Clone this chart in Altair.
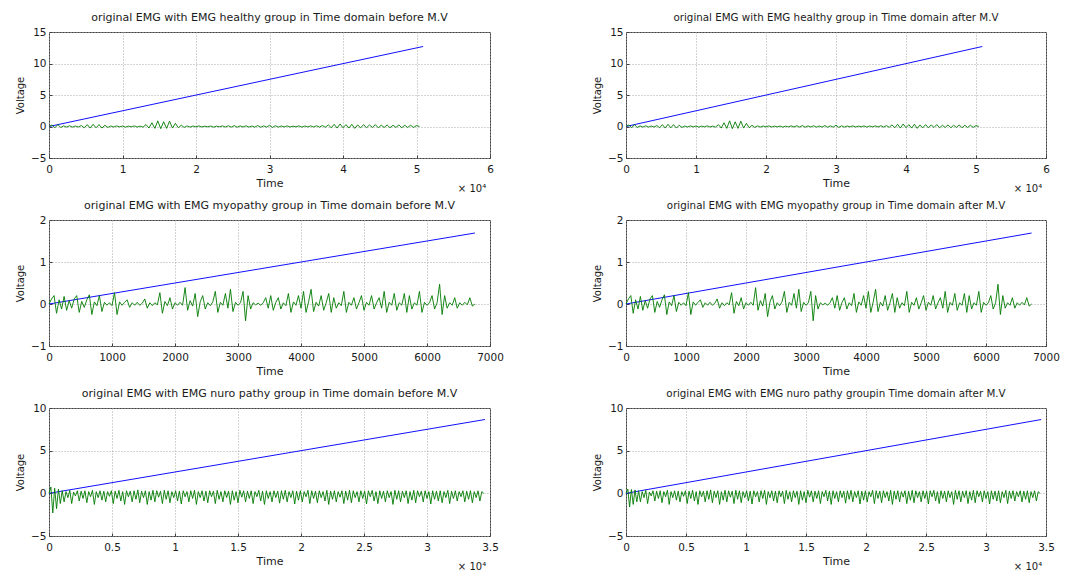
import altair as alt
import pandas as pd

# ---------------------------------------------------------------------------
# Sampled EMG traces (one value every STEP samples) and the M.V ramps
# ---------------------------------------------------------------------------
HEALTHY_STEP = 400
healthy_emg = [
    0.0, 0.25, -0.2, 0.3, -0.15,
    0.1, -0.1, 0.12, -0.1, 0.08, -0.08,
    0.15, -0.2, 0.3, -0.25, 0.35, -0.2, 0.3, -0.25, 0.2, -0.15,
    0.08, -0.08, 0.1, -0.06, 0.08, -0.1, 0.06, -0.05, 0.1, -0.08, 0.06, -0.1,
    0.3, -0.25, 0.6, -0.3, 0.9, -0.35, 0.75, -0.3, 0.85, -0.25, 0.5, -0.2,
    0.2, -0.15, 0.1, -0.1, 0.08, -0.06, 0.1, -0.08, 0.06, -0.05, 0.08, -0.1, 0.06, -0.05, 0.1, -0.08,
    0.12, -0.1, 0.15, -0.12, 0.1, -0.08, 0.12, -0.1, 0.08, -0.1, 0.15, -0.12, 0.1, -0.1, 0.2, -0.15,
    0.12, -0.1, 0.08, -0.06,
    0.1, -0.08, 0.06, -0.05, 0.1, -0.1, 0.08, -0.06, 0.1, -0.08, 0.12, -0.1, 0.15, -0.12,
    0.25, -0.2, 0.35, -0.25, 0.4, -0.2, 0.3, -0.25, 0.35, -0.3, 0.25, -0.2, 0.3, -0.2, 0.25, -0.15,
    0.3, -0.2, 0.2, -0.15, 0.25, -0.2,
    0.2, -0.15, 0.25, -0.2, 0.2, -0.15, 0.2, -0.15, 0.15, 0.0,
]

MYOPATHY_STEP = 40
myopathy_emg = [
    0.0, 0.12, 0.2, -0.22, 0.1, -0.12, 0.18, -0.15, 0.08, -0.1,
    0.12, 0.2, -0.2, 0.06, -0.08, 0.1, 0.22, -0.25, 0.05, -0.04,
    0.2, -0.18, 0.04, -0.03, 0.03, -0.04, 0.27, -0.25, 0.05, -0.03,
    0.04, 0.1, -0.08, 0.03, -0.03, 0.04, -0.03, 0.02, 0.12, -0.1,
    0.03, -0.04, 0.03, -0.02, 0.27, -0.22, 0.06, -0.04, 0.15, -0.12,
    0.03, -0.03, 0.04, -0.03, 0.39, -0.15, 0.08, -0.05, 0.25, -0.3,
    0.05, 0.2, -0.12, 0.03, -0.04, 0.05, 0.3, -0.2, 0.04, -0.03,
    0.25, -0.1, 0.35, -0.18, 0.04, -0.03, 0.03, 0.3, -0.4, 0.2,
    -0.12, 0.03, -0.02, 0.02, -0.03, 0.03, 0.15, -0.1, 0.2, -0.15,
    0.04, 0.15, -0.12, 0.03, -0.04, 0.25, -0.2, 0.05, -0.03, 0.2,
    -0.1, 0.3, -0.2, 0.05, 0.35, -0.18, 0.04, -0.05, 0.2, -0.15,
    0.03, 0.25, -0.2, 0.15, -0.1, 0.03, -0.04, 0.3, -0.2, 0.04,
    -0.03, 0.15, -0.12, 0.03, 0.2, -0.15, 0.04, -0.03, 0.2, -0.12,
    0.03, 0.15, -0.1, 0.3, -0.2, 0.04, -0.03, 0.25, -0.15, 0.03,
    -0.03, 0.25, -0.2, 0.2, -0.12, 0.03, -0.03, 0.3, -0.2, 0.04,
    -0.03, 0.03, 0.2, -0.12, 0.03, 0.47, -0.25, 0.2, -0.1, 0.03,
    -0.03, 0.15, -0.1, 0.03, -0.03, 0.04, -0.02, 0.15, -0.05, 0.0,
]

NEURO_STEP = 150
neuro_emg = [
    0.0, 0.75, -2.3, 0.6, -1.8, 0.5, -1.2,
    0.3, -1.0, 0.2, -0.5, 0.35, -1.2, 0.15, -0.3, 0.3, -0.9, 0.25, -0.6, 0.3, -1.1, 0.2, -0.4, 0.35, -1.3, 0.2, -0.5,
    0.3, -0.8, 0.25, -1.0, 0.2, -0.35, 0.3, -1.2, 0.25, -0.6, 0.35, -0.9, 0.2, -1.3, 0.3, -0.4, 0.25, -1.0, 0.3, -0.7,
    0.4, -1.1, 0.25, -0.5, 0.3, -1.3, 0.2, -0.8, 0.35, -1.0, 0.3, -0.45, 0.25, -1.2, 0.35, -0.7, 0.3, -1.1, 0.2, -0.5,
    0.3, -0.9, 0.25, -1.25, 0.3, -0.4, 0.2, -1.0, 0.3, -0.6, 0.35, -1.3, 0.2, -0.5, 0.3, -0.9, 0.25, -1.1, 0.3, -0.4,
    0.25, -1.2, 0.35, -0.7, 0.2, -1.0, 0.3, -0.5, 0.25, -1.3, 0.3, -0.8, 0.2, -1.1, 0.35, -0.45, 0.3, -1.0, 0.25, -0.6,
    0.3, -1.2, 0.2, -0.4, 0.35, -0.9, 0.25, -1.3, 0.3, -0.6, 0.2, -1.0, 0.3, -0.5, 0.25, -1.15, 0.3, -0.7, 0.35, -1.0,
    0.2, -0.5, 0.3, -1.25, 0.25, -0.8, 0.3, -1.0, 0.2, -0.4, 0.35, -1.2, 0.3, -0.6, 0.25, -1.1, 0.3, -0.5, 0.2, -0.9,
    0.35, -1.3, 0.25, -0.7, 0.3, -1.0, 0.2, -0.45, 0.3, -1.2, 0.25, -0.8, 0.35, -1.1, 0.3, -0.5, 0.2, -1.0, 0.3, -0.6,
    0.25, -1.25, 0.3, -0.4, 0.35, -0.9, 0.2, -1.2, 0.3, -0.6, 0.25, -1.0, 0.3, -0.5, 0.2, -1.3, 0.35, -0.7, 0.3, -1.0,
    0.25, -0.5, 0.3, -1.2, 0.2, -0.8, 0.35, -1.1, 0.3, -0.4, 0.25, -1.0, 0.3, -0.6, 0.2, -1.25, 0.3, -0.7, 0.25, -0.9,
    0.3, -1.1, 0.2, -0.5, 0.35, -1.2, 0.25, -0.6, 0.3, -0.9, 0.2, -0.4, 0.3, -1.0, 0.25, -0.7, 0.3, -1.1, 0.2, -0.5,
    0.3, -0.9, 0.2, 0.0,
]
# after M.V the onset burst is smaller; the rest of the trace is unchanged
neuro_emg_after_onset = [0.0, 0.5, -1.6, 0.45, -1.3, 0.4, -1.0]

healthy_mv_time, healthy_mv = [0, 50900], [0.0, 12.7]
myopathy_mv_time, myopathy_mv = [0, 6760], [0.0, 1.69]
neuro_mv_time, neuro_mv = [0, 34600], [0.0, 8.65]

titles = [
    ("original EMG with EMG healthy group in Time domain before M.V",
     "original EMG with EMG healthy group in Time domain after M.V"),
    ("original EMG with EMG myopathy group in Time domain before M.V",
     "original EMG with EMG myopathy group in Time domain after M.V"),
    ("original EMG with EMG nuro pathy group in Time domain before M.V",
     "original EMG with EMG nuro pathy groupin Time domain after M.V"),
]

FONT = "DejaVu Sans"
TEXT = "#1a1a1a"
LEFT_W, RIGHT_W = 441, 420
TICK = 3  # inward tick length


def trace(values, step):
    return pd.DataFrame({"t": [i * step for i in range(len(values))], "v": values})


def panel(title, emg, mv_t, mv_v, x_dom, x_vals, x_expr, y_dom, y_vals,
          width, height, sci, title_size):
    xs = alt.Scale(domain=x_dom, nice=False, zero=False)
    ys = alt.Scale(domain=y_dom, nice=False, zero=False)
    # axes are pulled inside the frame by the tick length so ticks point inward
    x_axis = alt.Axis(values=x_vals, labelExpr=x_expr, title="Time", grid=True,
                      ticks=True, tickSize=TICK, offset=-TICK, domain=False,
                      labelFlush=False, labelOverlap=False,
                      labelPadding=6, titlePadding=3)
    y_axis = alt.Axis(values=y_vals, title="Voltage", grid=True,
                      ticks=True, tickSize=TICK, offset=-TICK, domain=False,
                      labelFlush=False, labelOverlap=False, labelPadding=3,
                      minExtent=18 + TICK, maxExtent=18 + TICK, titlePadding=6,
                      titleFontSize=10)
    enc = dict(x=alt.X("t:Q", scale=xs, axis=x_axis),
               y=alt.Y("v:Q", scale=ys, axis=y_axis))
    ramp = alt.Chart(pd.DataFrame({"t": mv_t, "v": mv_v})).mark_line(
        color="#1010ff", strokeWidth=1
    ).encode(**enc)
    sig = alt.Chart(emg).mark_line(color="#007a00", strokeWidth=0.9).encode(**enc)
    layers = [ramp, sig]
    if sci:
        exp = alt.Chart(pd.DataFrame({"s": ["× 10⁴"]})).mark_text(
            font=FONT, fontSize=10, color=TEXT, align="center", baseline="middle"
        ).encode(text="s:N", x=alt.value(width - 18), y=alt.value(height + 31))
        layers.append(exp)
    return alt.layer(*layers).properties(
        width=width, height=height,
        title=alt.TitleParams(title, fontSize=title_size, font=FONT,
                              fontWeight="normal", color=TEXT, offset=4),
    )


big_vals = [0, 10000, 20000, 30000, 40000, 50000, 60000]
neuro_vals = [0, 5000, 10000, 15000, 20000, 25000, 30000, 35000]
myo_vals = [0, 1000, 2000, 3000, 4000, 5000, 6000, 7000]
scaled = "datum.value / 10000"
plain = "format(datum.value, 'd')"

healthy_df = trace(healthy_emg, HEALTHY_STEP)
myo_df = trace(myopathy_emg, MYOPATHY_STEP)
neuro_before_df = trace(neuro_emg, NEURO_STEP)
neuro_after_df = trace(neuro_emg_after_onset + neuro_emg[len(neuro_emg_after_onset):], NEURO_STEP)

panels = []
specs = [
    (healthy_df, healthy_df, healthy_mv_time, healthy_mv, [0, 60000], big_vals, scaled,
     [-5, 15], [-5, 0, 5, 10, 15], 126, True),
    (myo_df, myo_df, myopathy_mv_time, myopathy_mv, [0, 7000], myo_vals, plain,
     [-1, 2], [-1, 0, 1, 2], 126, False),
    (neuro_before_df, neuro_after_df, neuro_mv_time, neuro_mv, [0, 35000], neuro_vals, scaled,
     [-5, 10], [-5, 0, 5, 10], 128, True),
]
for (tl, tr), (df_l, df_r, mt, mv, xd, xv, xe, yd, yv, h, sci) in zip(titles, specs):
    panels.append(panel(tl, df_l, mt, mv, xd, xv, xe, yd, yv, LEFT_W, h, sci, 11))
    panels.append(panel(tr, df_r, mt, mv, xd, xv, xe, yd, yv, RIGHT_W, h, sci, 10.3))

chart = alt.concat(
    *panels, columns=2, bounds="flush", spacing={"row": 62, "column": 136}
).configure_view(
    stroke="#404040", strokeWidth=1
).configure_axis(
    labelFont=FONT, labelFontSize=10.5, labelColor=TEXT,
    titleFont=FONT, titleFontSize=11, titleFontWeight="normal", titleColor=TEXT,
    gridColor="#a8a8a8", gridDash=[1, 2], gridWidth=1,
    tickColor="#404040", tickWidth=1,
).properties(
    background="white",
    padding={"left": 14, "top": 11, "right": 5, "bottom": 5},
)

chart.save("out.html", embed_options={"renderer": "svg", "actions": False})
